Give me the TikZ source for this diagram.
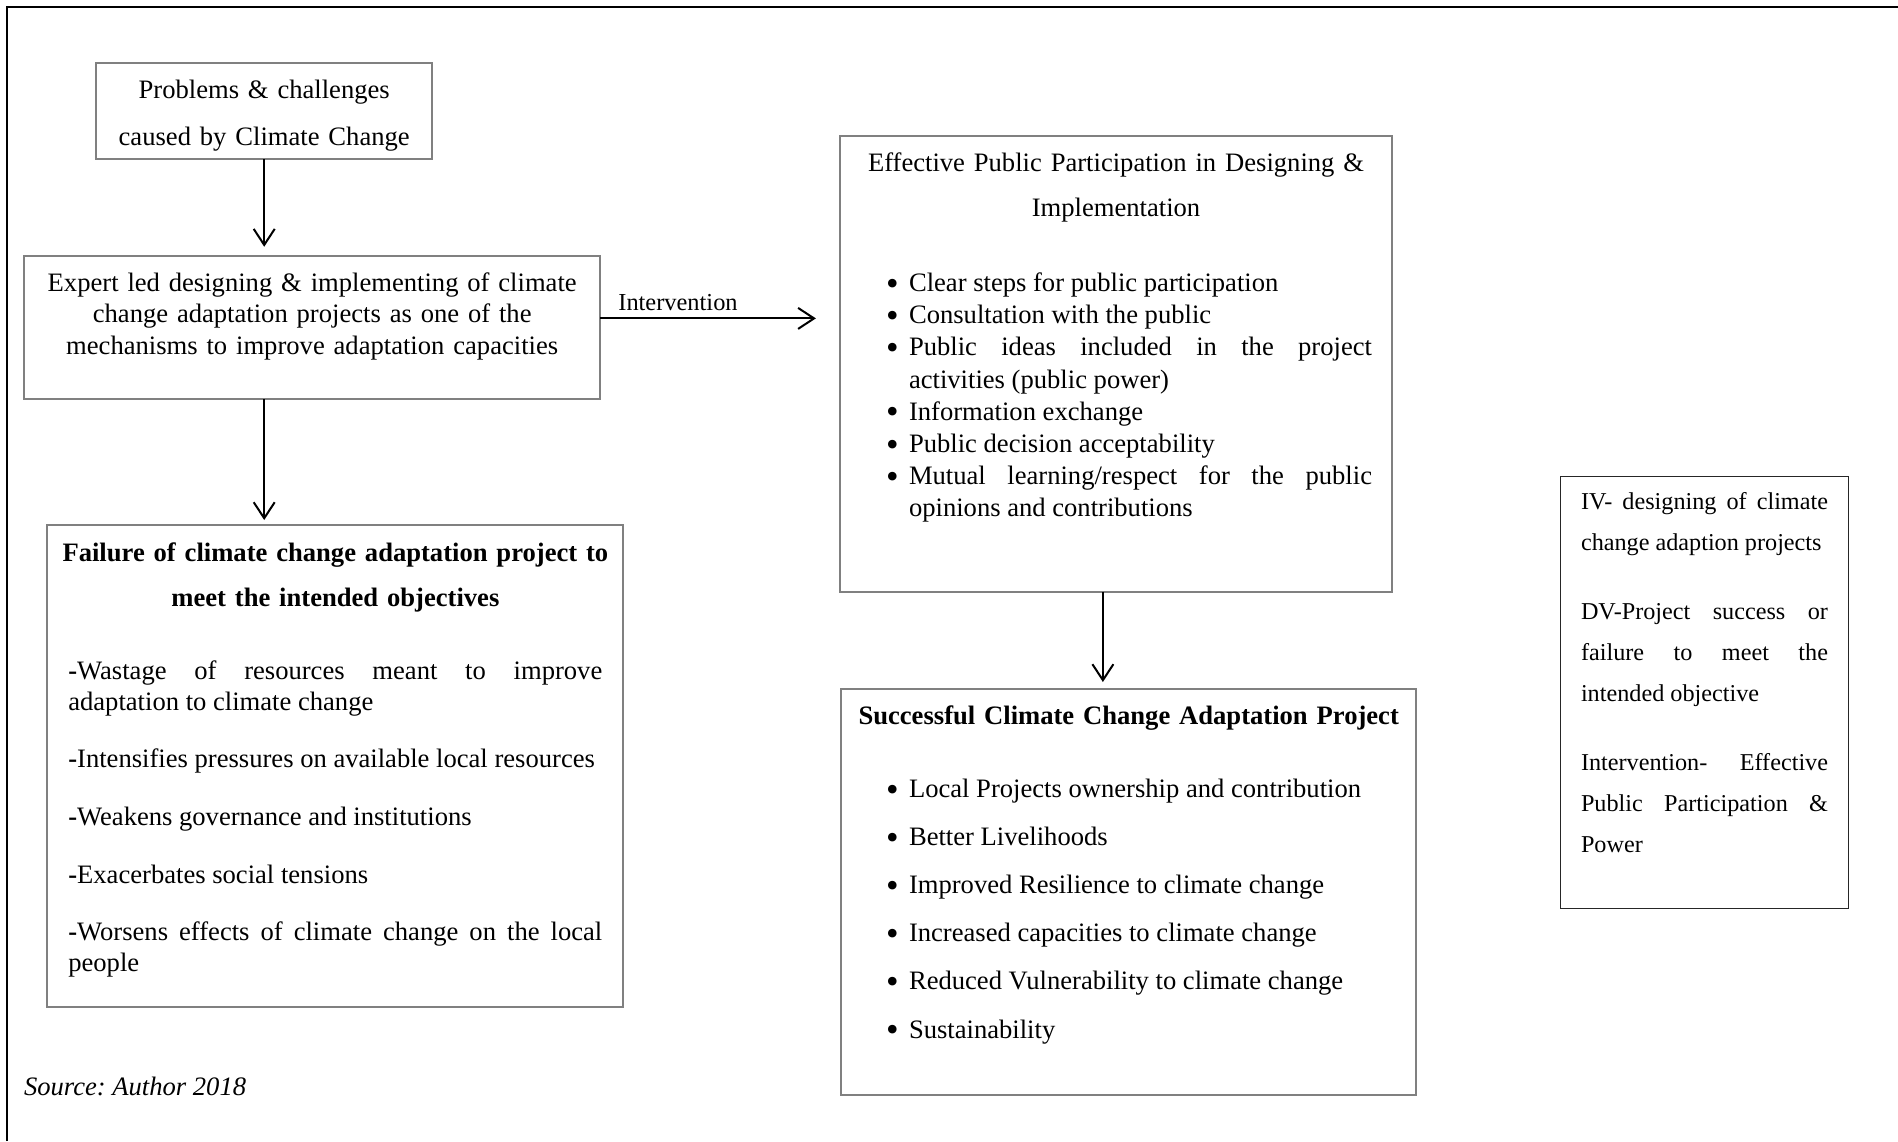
\documentclass[tikz,border=0pt]{standalone}
\usepackage{fontspec}
\usepackage{graphicx}
\setmainfont{Liberation Serif}
\usetikzlibrary{arrows.meta}
\tolerance=10000
\hbadness=10000
\frenchspacing
\newcommand\fsz[2]{\fontsize{#1pt}{#2pt}\selectfont}
\newcommand\bigbul{\raisebox{-3.6pt}{\scalebox{1.35}{•}}}
\newcommand\bitem[1]{\hangindent=23pt\hangafter=1\makebox[23pt][l]{\bigbul}#1\par}
\begin{document}
\begin{tikzpicture}[x=1pt,y=-1pt,
  box/.style={draw=black!50, line width=2pt, inner sep=0pt, outer sep=0pt},
  legbox/.style={draw=black!85, line width=1.3pt, inner sep=0pt, outer sep=0pt},
  txt/.style={inner sep=0pt, outer sep=0pt},
  arr/.style={line width=2pt, -{Straight Barb[length=16pt,width=21pt]}}]
\useasboundingbox (0,0) rectangle (1898,1141);
% outer frame
\draw[line width=2.5pt] (7,1141) -- (7,7) -- (1898,7);

% boxes
\node[box, minimum width=336pt, minimum height=96pt] (bprob) at (264.2,111.3) {};
\node[box, minimum width=576pt, minimum height=143.3pt] (bexp) at (312.2,327.4) {};
\node[box, minimum width=552pt, minimum height=456pt] (beff) at (1115.9,363.8) {};
\node[box, minimum width=576pt, minimum height=481.7pt] (bfail) at (335.4,765.9) {};
\node[box, minimum width=575.5pt, minimum height=406pt] (bsucc) at (1128.7,892) {};
\node[legbox, minimum width=287.6pt, minimum height=431.6pt] (bleg) at (1704.5,692.5) {};

% texts
\node[txt, anchor=base, text width=330pt, align=center, font=\fsz{26.6}{46.7}] (tprob) at (264.2,98.3)
  {Problems \& challenges\\ caused by Climate Change};
\node[txt, anchor=base, text width=560pt, align=center, font=\fsz{26.6}{31.5}] (texp) at (312.2,291)
  {Expert led designing \& implementing of climate\\ change adaptation projects as one of the\\ mechanisms to improve adaptation capacities};
\node[txt, anchor=base, font=\fsz{24.4}{29}] (tint) at (678,310) {Intervention};

\node[txt, anchor=base, text width=540pt, align=center, font=\fsz{26.6}{45}] (teff) at (1116,171.7)
  {Effective Public Participation in Designing \&\\ Implementation};
\node[txt, anchor=base west, text width=486pt, align=justify, font=\fsz{26.6}{32.2}] (leff) at (886,291.5)
  {\bitem{Clear steps for public participation}%
   \bitem{Consultation with the public}%
   \bitem{Public ideas included in the project\linebreak activities (public power)}%
   \bitem{Information exchange}%
   \bitem{Public decision acceptability}%
   \bitem{Mutual learning/respect for the public\linebreak opinions and contributions}};

\node[txt, anchor=base, text width=570pt, align=center, font=\fsz{26.6}{44.3}\bfseries] (tfail) at (335.4,561.7)
  {Failure of climate change adaptation project to\\ meet the intended objectives};
\node[txt, anchor=base west, text width=534pt, align=justify, font=\fsz{26.6}{30.8}] (lfail) at (68.3,679.3)
  {\setlength{\parskip}{26.9pt}\textbf{-}Wastage of resources meant to improve\linebreak adaptation to climate change\par
   \textbf{-}Intensifies pressures on available local resources\par
   \textbf{-}Weakens governance and institutions\par
   \textbf{-}Exacerbates social tensions\par
   \textbf{-}Worsens effects of climate change on the local\linebreak people};

\node[txt, anchor=base, text width=570pt, align=center, font=\fsz{26.6}{32}\bfseries] (tsucc) at (1128.7,724)
  {Successful Climate Change Adaptation Project};
\node[txt, anchor=base west, text width=500pt, align=justify, font=\fsz{26.6}{48.1}] (lsucc) at (886,797.5)
  {\bitem{Local Projects ownership and contribution}%
   \bitem{Better Livelihoods}%
   \bitem{Improved Resilience to climate change}%
   \bitem{Increased capacities to climate change}%
   \bitem{Reduced Vulnerability to climate change}%
   \bitem{Sustainability}};

\node[txt, anchor=base west, text width=247pt, align=justify, font=\fsz{24.2}{41.2}] (tleg) at (1581,509.3)
  {\setlength{\parskip}{27.5pt}IV- designing of climate\linebreak change adaption projects\par
   DV-Project success or\linebreak failure to meet the\linebreak intended objective\par
   Intervention- Effective\linebreak Public Participation \&\linebreak Power};

\node[txt, anchor=base west, font=\fsz{26.6}{32}\itshape] (src) at (24,1095) {Source: Author 2018};

% arrows
\draw[arr, shorten >=9pt] (bprob.south) -- (bprob.south |- bexp.north);
\draw[arr, shorten >=5pt] (bprob.south |- bexp.south) -- (bprob.south |- bfail.north);
\draw[arr, shorten >=24pt] ([yshift=9pt]bexp.east) -- ([yshift=9pt]bexp.east -| beff.west);
\draw[arr, shorten >=7pt] ([xshift=-13pt]beff.south) -- ([xshift=-13pt]beff.south |- bsucc.north);
\end{tikzpicture}
\end{document}
